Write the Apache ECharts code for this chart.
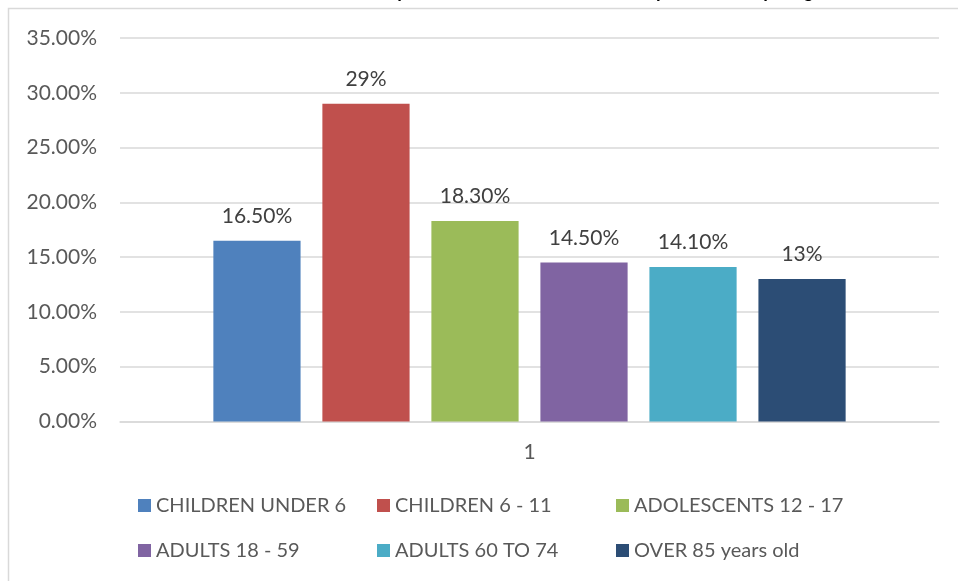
<!DOCTYPE html>
<html>
<head>
<meta charset="utf-8">
<script src="https://cdn.jsdelivr.net/npm/echarts@6/dist/echarts.min.js"></script>
<style>
  html, body { margin: 0; padding: 0; background: #ffffff; }
  #chart { width: 958px; height: 581px; }
</style>
</head>
<body>
<div id="chart"></div>
<script>
// Share of each age group, one bar per group
const categories = ['1'];
const groupNames = ['CHILDREN UNDER 6', 'CHILDREN 6 - 11', 'ADOLESCENTS 12 - 17', 'ADULTS 18 - 59', 'ADULTS 60 TO 74', 'OVER 85 years old'];
const groupValues = [16.5, 29, 18.3, 14.5, 14.1, 13];
const valueLabels = ['16.50%', '29%', '18.30%', '14.50%', '14.10%', '13%'];
const groupColors = ['#4f81bd', '#c0504d', '#9bbb59', '#8064a2', '#4bacc6', '#2c4d75'];
const titleText = 'Prevalence of Childhood Obesity, Adolescent and Adult Obesity Stratified by Stage';

const FONT = 'Lato';
const TEXT = '#595959';
const GRID = '#d9d9d9';

const chart = echarts.init(document.getElementById('chart'), null, { renderer: 'canvas' });

const series = groupNames.map((name, i) => ({
  name: name,
  type: 'bar',
  data: [groupValues[i]],
  barGap: '25%',
  barCategoryGap: '22.8%',
  itemStyle: { color: groupColors[i] },
  label: {
    show: true,
    position: 'top',
    distance: 14,
    formatter: () => valueLabels[i],
    color: '#404040',
    fontFamily: FONT,
    fontSize: 21
  }
}));

chart.setOption({
  animation: false,
  backgroundColor: '#ffffff',
  title: {
    text: titleText,
    left: 'center',
    top: -24,
    textStyle: { fontFamily: FONT, fontSize: 20, fontWeight: 'bold', fontStyle: 'italic', color: '#000000' }
  },
  graphic: [{
    type: 'rect',
    shape: { x: 8.5, y: 8.5, width: 980, height: 620 },
    style: { fill: '#ffffff', stroke: GRID, lineWidth: 1.5 },
    z: -10,
    silent: true
  }],
  grid: { left: 120, right: 19, top: 38, bottom: 159.5 },
  legend: {
    data: groupNames,
    left: 133,
    top: 488,
    width: 730,
    itemWidth: 13,
    itemHeight: 13,
    itemGap: 20,
    icon: 'rect',
    textStyle: { fontFamily: FONT, fontSize: 20, color: TEXT, width: 201, lineHeight: 25 }
  },
  xAxis: {
    type: 'category',
    data: categories,
    axisLine: { lineStyle: { color: GRID, width: 1.5 } },
    axisTick: { show: false },
    axisLabel: { fontFamily: FONT, fontSize: 21, color: TEXT, margin: 20 }
  },
  yAxis: {
    type: 'value',
    min: 0,
    max: 35,
    interval: 5,
    axisLine: { show: false },
    axisTick: { show: false },
    splitLine: { lineStyle: { color: GRID, width: 1.5 } },
    axisLabel: {
      fontFamily: FONT, fontSize: 21, color: TEXT, margin: 23,
      formatter: v => v.toFixed(2) + '%'
    }
  },
  series: series
});
</script>
</body>
</html>
